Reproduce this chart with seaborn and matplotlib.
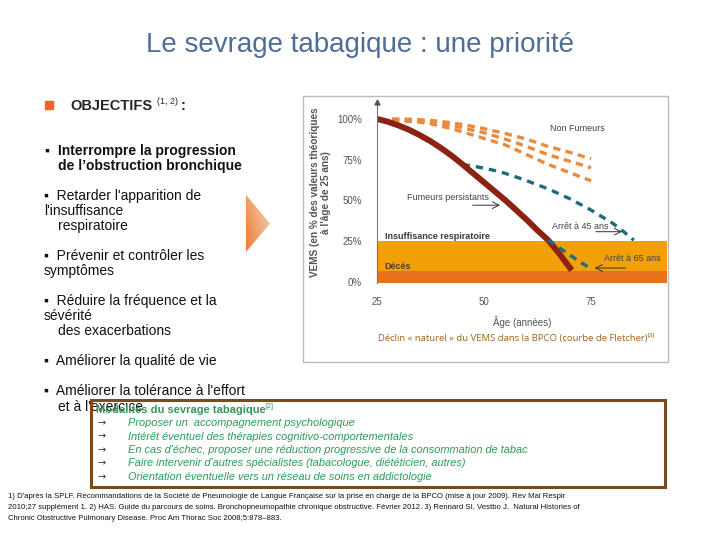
import numpy as np
import matplotlib
matplotlib.use("Agg")
import matplotlib.pyplot as plt
from matplotlib.patches import Rectangle, Polygon
import seaborn as sns

# -----------------------------
# DATA (Fletcher curve)
# -----------------------------
smoker_age = [25, 27.5, 30, 32.5, 35, 37.5, 40, 42.5, 45, 47.5, 50, 52.5, 55,
              57.5, 60, 62.5, 65, 67.5, 70.5]
smoker_vems = [100, 98.3, 96, 93.3, 90, 86.3, 82, 77.3, 72, 66.5, 61, 55.5, 50,
               44, 38, 31.5, 25.5, 17.5, 7]

stop45_age = [45, 47.5, 50, 52.5, 55, 57.5, 60, 62.5, 65, 67.5, 70, 72.5, 75,
              77.5, 80, 82.5, 85]
stop45_vems = [72, 71, 69.7, 68.3, 66.5, 64.3, 62, 59.5, 57, 54, 51, 47.5, 44,
               40, 36, 31, 25.5]

stop65_age = [65, 67.5, 70, 72.5, 75]
stop65_vems = [25.5, 21, 16.5, 12, 8]

nonsmoker_age = [28.5, 32.5, 35, 37.5, 40, 42.5, 45, 47.5, 50, 52.5, 55, 57.5,
                 60, 62.5, 65, 67.5, 70, 72.5, 75]
nonsmoker_top = [100, 99.8, 99.5, 99, 98.5, 97.5, 96.5, 95.3, 94, 92.5, 91, 89.3,
                 87.5, 85.3, 83, 81.3, 79.5, 77.5, 75.5]
nonsmoker_mid = [99.5, 99.3, 99, 98, 97, 96, 94.5, 93, 91.5, 89.5, 87.5, 85.3,
                 83, 80.5, 78, 76, 74, 72, 70]
nonsmoker_low = [99, 98.5, 98, 97, 95.5, 94, 92, 90, 88, 86, 84, 81,
                 78, 75, 72, 69.5, 67, 64.5, 62]

yticks = [0, 25, 50, 75, 100]
ytick_labels = ["0%", "25%", "50%", "75%", "100%"]
xticks = [25, 50, 75]

insuff_level = 25
deces_level = 6.6

modalites = [
    "Proposer un  accompagnement psychologique",
    "Intérêt éventuel des thérapies cognitivo-comportementales",
    "En cas d'échec, proposer une réduction progressive de la consommation de tabac",
    "Faire intervenir d'autres spécialistes (tabacologue, diététicien, autres)",
    "Orientation éventuelle vers un réseau de soins en addictologie",
]
footnotes = [
    "1) D'après la SPLF. Recommandations de la Société de Pneumologie de Langue Française sur la prise en charge de la BPCO (mise à jour 2009). Rev Mal Respir",
    "2010;27 supplément 1. 2) HAS. Guide du parcours de soins. Bronchopneumopathie chronique obstructive. Février 2012. 3) Rennard SI, Vestbo J.  Natural Histories of",
    "Chronic Obstructive Pulmonary Disease. Proc Am Thorac Soc 2008;5:878–883.",
]

# -----------------------------
# FIGURE
# -----------------------------
sns.set_theme(style="white")
plt.rcParams['font.family'] = ['Liberation Sans', 'DejaVu Sans']

W, H = 720, 540
fig = plt.figure(figsize=(7.2, 5.4), dpi=100)
fig.patch.set_facecolor("white")


def px(x, y):
    return x / W, 1 - y / H


def ftext(x, y, s, **kw):
    fx, fy = px(x, y)
    fig.text(fx, fy, s, **kw)


# title
ftext(360, 45, "Le sevrage tabagique : une priorité", ha="center", va="center",
      fontsize=20, color="#4F6E96")

# objectifs
fig.patches.append(Rectangle(px(45, 109), 8 / W, 8 / H, transform=fig.transFigure,
                             color="#F0652A", zorder=3))
ftext(70, 106, "OBJECTIFS", fontsize=10.5, fontweight="bold", va="center")
ftext(157, 102, "(1, 2)", fontsize=6.5, va="center")
ftext(181, 106, ":", fontsize=10.5, fontweight="bold", va="center")

body = dict(fontsize=10, va="center", color="#111111")
ftext(44, 151, "▪", **body)
ftext(58, 151, "Interrompre la progression", fontweight="bold", **body)
ftext(58, 166, "de l\u2019obstruction bronchique", fontweight="bold", **body)
ftext(44, 196, "▪  Retarder l'apparition de", **body)
ftext(44, 211, "l'insuffisance", **body)
ftext(58, 226, "respiratoire", **body)
ftext(44, 256, "▪  Prévenir et contrôler les", **body)
ftext(44, 271, "symptômes", **body)
ftext(44, 301, "▪  Réduire la fréquence et la", **body)
ftext(44, 316, "sévérité", **body)
ftext(58, 331, "des exacerbations", **body)
ftext(44, 361, "▪  Améliorer la qualité de vie", **body)
ftext(44, 391, "▪  Améliorer la tolérance à l'effort", **body)
ftext(58, 407, "et à l'exercice", **body)

# orange triangle with gradient
tri_ax = fig.add_axes([246 / W, 1 - 252 / H, 24 / W, 57 / H])
tri_ax.set_axis_off()
grad = np.linspace(0, 1, 100)
gx, gy = np.meshgrid(grad, grad)
tri_ax.imshow(0.6 * gx + 0.4 * (1 - gy), cmap=sns.light_palette("#EF7A2E", as_cmap=True).reversed(),
              extent=[0, 1, 0, 1], aspect="auto", vmin=0, vmax=1.3)
tri = Polygon([[0, 0], [0, 1], [1, 0.5]], transform=tri_ax.transData, facecolor="none",
              edgecolor="none")
tri_ax.add_patch(tri)
tri_ax.images[0].set_clip_path(tri)
tri_ax.set_xlim(0, 1)
tri_ax.set_ylim(0, 1)

# chart frame
fig.patches.append(Rectangle(px(303, 362), 365 / W, 266 / H, transform=fig.transFigure,
                             facecolor="none", edgecolor="#BBBBBB", lw=1))

# -----------------------------
# CHART
# -----------------------------
ax = fig.add_axes([377 / W, 1 - 283.3 / H, 290 / W, (283.3 - 101) / H])
ax.set_xlim(25, 92.75)
ax.set_ylim(-1, 111)

ax.axhspan(-1, insuff_level, color="#F2A007", lw=0, zorder=1)
ax.axhspan(-1, deces_level, color="#E6731C", lw=0, zorder=1)

for yy in [nonsmoker_top, nonsmoker_mid, nonsmoker_low]:
    sns.lineplot(x=nonsmoker_age, y=yy, ax=ax, color="#EB8A3C", lw=2.4,
                 zorder=2).lines[-1].set_dashes((2.2, 1.6))

l45 = sns.lineplot(x=stop45_age, y=stop45_vems, ax=ax, color="#1E6C7B", lw=2.4, zorder=2)
l45.lines[-1].set_dashes((2.2, 1.8))
l65 = sns.lineplot(x=stop65_age, y=stop65_vems, ax=ax, color="#1E6C7B", lw=2.4, zorder=4)
l65.lines[-1].set_dashes((2.2, 1.8))
sns.lineplot(x=smoker_age, y=smoker_vems, ax=ax, color="#8B2212", lw=4.3, zorder=3,
             solid_capstyle="butt")

for s in ["top", "right", "bottom"]:
    ax.spines[s].set_visible(False)
ax.spines["left"].set_color("#777777")
ax.spines["left"].set_linewidth(0.8)
ax.spines["left"].set_zorder(5)
ax.plot([25], [110.5], marker="^", color="#555555", ms=3.5, clip_on=False, zorder=6)

ax.set_yticks(yticks)
ax.set_yticklabels(ytick_labels)
ax.set_xticks(xticks)
ax.tick_params(axis="both", length=0, labelsize=7, colors="#555555")
ax.tick_params(axis="y", pad=11)
ax.tick_params(axis="x", pad=10)
ax.set_xlabel("Âge (années)", fontsize=7, color="#555555", labelpad=6)
ax.set_ylabel("VEMS (en % des valeurs théoriques\nà l'âge de 25 ans)", fontsize=7.2,
              fontweight="bold", color="#555555", linespacing=1.1)
ax.yaxis.set_label_coords(-0.16, 0.5)

lab = dict(fontsize=6.5, color="#444444")
ax.text(26.8, 27.6, "Insuffisance respiratoire", fontweight="bold", va="center",
        fontsize=6.5, color="#3A3A3A", zorder=6)
ax.text(26.8, 9.2, "Décès", fontweight="bold", va="center", fontsize=6.5,
        color="#5A3A2A", zorder=6)
ax.text(65.4, 94, "Non Fumeurs", va="center", **lab)
ax.text(32, 52, "Fumeurs persistants", va="center", **lab)
ax.annotate("", xy=(54.4, 47), xytext=(46.7, 47),
            arrowprops=dict(arrowstyle="->", color="#333333", lw=0.7))
ax.text(65.9, 33.8, "Arrêt à 45 ans", va="center", **lab)
ax.annotate("", xy=(82.9, 30.7), xytext=(75.5, 30.7),
            arrowprops=dict(arrowstyle="->", color="#333333", lw=0.7))
ax.text(78, 14, "Arrêt à 65 ans", va="center", **lab)
ax.annotate("", xy=(75.2, 8.4), xytext=(83.7, 8.4),
            arrowprops=dict(arrowstyle="->", color="#333333", lw=0.7), zorder=6)

ftext(378, 338, "Déclin « naturel » du VEMS dans la BPCO (courbe de Fletcher)",
      fontsize=6.8, color="#A0621A", va="center", family=["Open Sans", "DejaVu Sans"])
ftext(647, 335, "[3]", fontsize=4.5, color="#A0621A", va="center")

# -----------------------------
# MODALITES BOX
# -----------------------------
fig.patches.append(Rectangle(px(91, 487), 574 / W, 87 / H, transform=fig.transFigure,
                             facecolor="none", edgecolor="#7B4A1E", lw=2.2, zorder=5))
green = "#2E9A5C"
ftext(96, 410, "Modalités du sevrage tabagique", fontsize=8, fontweight="bold",
      color=green, va="center")
ftext(266, 407, "[2]", fontsize=5, color=green, va="center")
for i, item in enumerate(modalites):
    yy = 423 + i * 13.5
    ftext(97, yy, "→", fontsize=7, color="#333333", va="center",
          family=["DejaVu Sans"])
    ftext(128, yy, item, fontsize=7.9, style="italic", color=green, va="center")

# footnotes
for i, line in enumerate(footnotes):
    ftext(8, 497 + i * 10.7, line, fontsize=5.6, va="center", color="#111111")

fig.savefig("out.png", dpi=100)
